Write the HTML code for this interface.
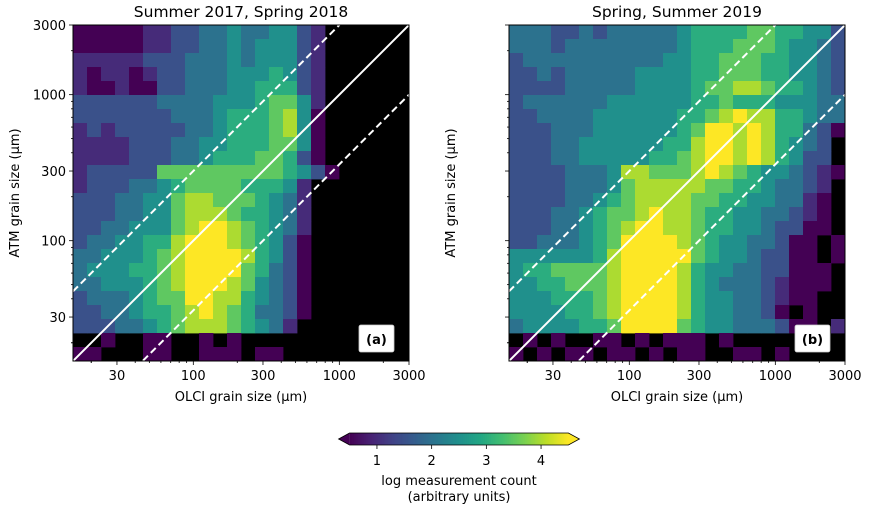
<!DOCTYPE html>
<html><head><meta charset="utf-8"><style>
body{margin:0;background:#fff;}
svg text{font-family:"DejaVu Sans","Liberation Sans",sans-serif;fill:#000;}
</style></head><body>
<svg id="fig" width="869" height="509" viewBox="0 0 869 509" xmlns="http://www.w3.org/2000/svg"></svg>
<script>
// Heatmap values (digit codes: 0 = no data; 1..9 -> log count 0.5..4.5), 24x24 coarse bins, top row = highest ATM size
const gridA = [
"111112233445445532000000",
"111112233445455532000000",
"222223334445455532000000",
"212212334445556532000000",
"211211334445566632000000",
"333333444455567752000000",
"333333344456667851000000",
"232333334456667851000000",
"222233344556667751000000",
"222233344566677631000000",
"233333777777777653100000",
"233344567777666520000000",
"333445578877765420000000",
"333445578887665420000000",
"334455578998765420000000",
"344556689998765310000000",
"445556789999865310000000",
"455566789999764310000000",
"445556789998754310000000",
"344456779988654310000000",
"334456678987644310000000",
"333445678887654200000000",
"001001100101000000000000",
"110001100111011000000000"];
const gridB = [
"444334344444566667766553",
"444344444444566677765543",
"344444444445566777665543",
"334344444555566777665543",
"333344444555567788766543",
"344444455555566766655544",
"334444555555667898866544",
"333444555555679989866431",
"333445555556689989865430",
"333445555566789989865330",
"333344458877789876554321",
"333344457888887766544320",
"333344567888877665544210",
"333445677898876655443210",
"333445678998876655433110",
"334445679999876554431101",
"555555689999976554331101",
"566777789999865544331110",
"556677789999865444321110",
"555666789999865544321100",
"555566789999865544310100",
"455556679999765544431102",
"010100110101110100000000",
"101011011010110011010000"];
const xTicks = [30, 100, 300, 1000, 3000];
const yTicks = [30, 100, 300, 1000, 3000];
const xTickLabels = ["30", "100", "300", "1000", "3000"];
const yTickLabels = ["30", "100", "300", "1000", "3000"];
const cbTicks = [1, 2, 3, 4];
const ratioLines = [1, 3, 1/3];
const titles = ["Summer 2017, Spring 2018", "Spring, Summer 2019"];
const panelTags = ["(a)", "(b)"];

const NS = "http://www.w3.org/2000/svg";
const svg = document.getElementById("fig");
function mk(tag, attrs, parent) {
  const e = document.createElementNS(NS, tag);
  for (const k in attrs) e.setAttribute(k, attrs[k]);
  (parent || svg).appendChild(e);
  return e;
}
const VIR = [[68,1,84],[72,35,116],[64,67,135],[52,94,141],[41,120,142],[32,144,140],[34,167,132],[68,190,112],[121,209,81],[189,222,38],[253,231,37]];
function viridis(t) {
  t = Math.max(0, Math.min(1, t));
  const p = t * (VIR.length - 1), i = Math.min(VIR.length - 2, Math.floor(p)), f = p - i;
  const c = VIR[i].map((v, k) => Math.round(v + (VIR[i + 1][k] - v) * f));
  return "rgb(" + c.join(",") + ")";
}
const vmin = 0.5, vmax = 4.5;
const lmin = Math.log10(15), lmax = Math.log10(3000);
const panels = [{x0: 73, y0: 25, w: 336, h: 336, grid: gridA}, {x0: 509, y0: 25, w: 336, h: 336, grid: gridB}];

panels.forEach((P, pi) => {
  const sx = v => P.x0 + (Math.log10(v) - lmin) / (lmax - lmin) * P.w;
  const sy = v => P.y0 + P.h - (Math.log10(v) - lmin) / (lmax - lmin) * P.h;
  const g = mk("g", {});
  
  
  mk("rect", {x: P.x0, y: P.y0, width: P.w, height: P.h, fill: "#000"}, g);
  const n = P.grid.length, cw = P.w / P.grid[0].length, ch = P.h / n;
  P.grid.forEach((row, r) => {
    for (let c = 0; c < row.length; c++) {
      const d = +row[c];
      if (d === 0) continue;
      const v = 0.5 + (d - 1) * 0.5;
      const cell = mk("rect", {x: (P.x0 + c * cw).toFixed(2), y: (P.y0 + r * ch).toFixed(2), width: (cw + 0.4).toFixed(2), height: (ch + 0.4).toFixed(2), fill: viridis((v - vmin) / (vmax - vmin))}, g);
      
      
    }
  });
  // ratio lines
  const cp = mk("clipPath", {id: "clip" + pi}, g);
  mk("rect", {x: P.x0, y: P.y0, width: P.w, height: P.h}, cp);
  ratioLines.forEach(k => {
    const x1 = 15, x2 = 3000;
    const ln = mk("line", {x1: sx(x1), y1: sy(x1 * k), x2: sx(x2), y2: sy(x2 * k), stroke: "#fff", "stroke-width": 2, "clip-path": "url(#clip" + pi + ")"}, g);
    if (k !== 1) ln.setAttribute("stroke-dasharray", "7,4");
    
    
  });
  mk("rect", {x: P.x0, y: P.y0, width: P.w, height: P.h, fill: "none", stroke: "#000", "stroke-width": 1}, g);
  // minor ticks
  const minors = [];
  [10, 100, 1000].forEach(dec => { for (let m = 1; m <= 9; m++) { const v = dec * m; if (v > 15 && v < 3000 && xTicks.indexOf(v) < 0) minors.push(v); } });
  minors.push(20);
  minors.forEach(v => {
    if (v <= 15) return;
    mk("line", {x1: sx(v), y1: P.y0 + P.h, x2: sx(v), y2: P.y0 + P.h + 2, stroke: "#000", "stroke-width": 0.8}, g);
    mk("line", {x1: P.x0, y1: sy(v), x2: P.x0 - 2, y2: sy(v), stroke: "#000", "stroke-width": 0.8}, g);
  });
  xTicks.forEach((v, i) => {
    mk("line", {x1: sx(v), y1: P.y0 + P.h, x2: sx(v), y2: P.y0 + P.h + 4, stroke: "#000", "stroke-width": 0.8}, g);
    const t = mk("text", {x: sx(v), y: P.y0 + P.h + 19, "text-anchor": "middle", "font-size": 13}, g);
    t.textContent = xTickLabels[i];
    
    
  });
  yTicks.forEach((v, i) => {
    mk("line", {x1: P.x0, y1: sy(v), x2: P.x0 - 4, y2: sy(v), stroke: "#000", "stroke-width": 0.8}, g);
    if (pi === 0) {
      const t = mk("text", {x: P.x0 - 7, y: sy(v) + 5, "text-anchor": "end", "font-size": 13}, g);
      t.textContent = yTickLabels[i];
      
      
    }
  });
  const xl = mk("text", {x: P.x0 + P.w / 2, y: 401, "text-anchor": "middle", "font-size": 13}, g);
  xl.textContent = "OLCI grain size (μm)";
  
  
  const ylx = P.x0 - 54;
  const yl = mk("text", {x: ylx, y: P.y0 + P.h / 2, "text-anchor": "middle", "font-size": 13, transform: "rotate(-90 " + ylx + " " + (P.y0 + P.h / 2) + ")"}, g);
  yl.textContent = "ATM grain size (μm)";
  
  
  const tt = mk("text", {x: P.x0 + P.w / 2, y: 17, "text-anchor": "middle", "font-size": 15.5}, g);
  tt.textContent = titles[pi];
  
  
  const bx = mk("rect", {x: P.x0 + P.w - 50, y: P.y0 + P.h - 36, width: 35, height: 27, fill: "#fff", stroke: "#ccc", "stroke-width": 0.8, rx: 2}, g);
  
  
  const tg = mk("text", {x: P.x0 + P.w - 32.5, y: P.y0 + P.h - 17, "text-anchor": "middle", "font-size": 13, "font-weight": "bold"}, g);
  tg.textContent = panelTags[pi];
  
  
});

// colorbar
const cb = mk("g", {});


const cbx0 = 349.6, cbx1 = 568.4, cby = 433, cbh = 12;
const cx = v => cbx0 + (v - vmin) / (vmax - vmin) * (cbx1 - cbx0);
const N = 110;
for (let i = 0; i < N; i++) {
  const v = vmin + (vmax - vmin) * (i + 0.5) / N;
  mk("rect", {x: cx(vmin + (vmax - vmin) * i / N), y: cby, width: (cbx1 - cbx0) / N + 0.5, height: cbh, fill: viridis((v - vmin) / (vmax - vmin))}, cb);
}
mk("polygon", {points: `${cbx0},${cby} ${cbx0 - 11},${cby + cbh / 2} ${cbx0},${cby + cbh}`, fill: viridis(0)}, cb);
mk("polygon", {points: `${cbx1},${cby} ${cbx1 + 11},${cby + cbh / 2} ${cbx1},${cby + cbh}`, fill: viridis(1)}, cb);
mk("polygon", {points: `${cbx0},${cby} ${cbx0 - 11},${cby + cbh / 2} ${cbx0},${cby + cbh} ${cbx1},${cby + cbh} ${cbx1 + 11},${cby + cbh / 2} ${cbx1},${cby}`, fill: "none", stroke: "#000", "stroke-width": 0.8}, cb);
cbTicks.forEach(v => {
  mk("line", {x1: cx(v), y1: cby + cbh, x2: cx(v), y2: cby + cbh + 4, stroke: "#000", "stroke-width": 0.8}, cb);
  const t = mk("text", {x: cx(v), y: cby + cbh + 20, "text-anchor": "middle", "font-size": 13}, cb);
  t.textContent = String(v);
  
  
});
const c1 = mk("text", {x: 459, y: 485, "text-anchor": "middle", "font-size": 13}, cb);
c1.textContent = "log measurement count";


const c2 = mk("text", {x: 459, y: 501, "text-anchor": "middle", "font-size": 13}, cb);
c2.textContent = "(arbitrary units)";


</script>
</body></html>
